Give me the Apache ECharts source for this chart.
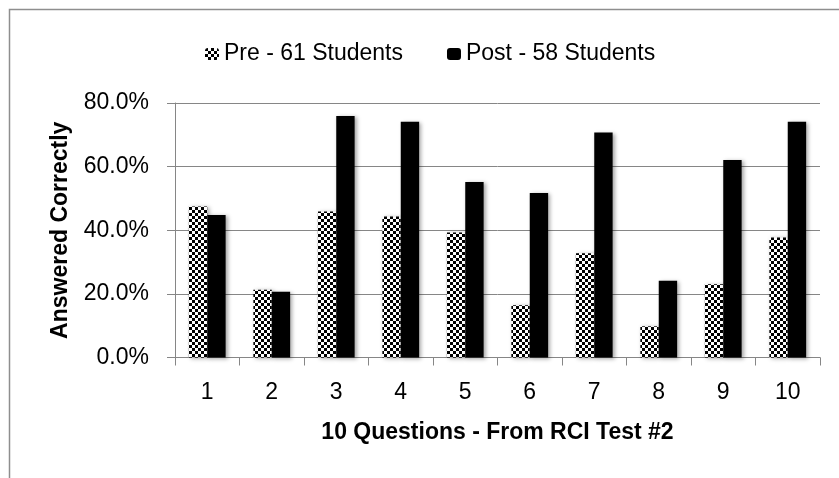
<!DOCTYPE html>
<html>
<head>
<meta charset="utf-8">
<script src="https://cdn.jsdelivr.net/npm/echarts@6/dist/echarts.min.js"></script>
<style>
html,body{margin:0;padding:0;background:#fff;}
#chart{width:839px;height:478px;}
</style>
</head>
<body>
<div id="chart"></div>
<script>
// ---- data ----
const categories = ['1','2','3','4','5','6','7','8','9','10'];
const preName = 'Pre - 61 Students';
const postName = 'Post - 58 Students';
const preValues = [47.5, 21.3, 45.9, 44.3, 39.3, 16.4, 32.8, 9.8, 23.0, 37.7];
const postValues = [44.8, 20.7, 75.9, 74.1, 55.2, 51.7, 70.7, 24.1, 62.1, 74.1];
const yTickValues = [0, 20, 40, 60, 80];
const xAxisTitle = '10 Questions - From RCI Test #2';
const yAxisTitle = 'Answered Correctly';

// ---- checkerboard pattern ----
const pc = document.createElement('canvas');
pc.width = 6; pc.height = 6;
const pctx = pc.getContext('2d');
pctx.fillStyle = '#ffffff'; pctx.fillRect(0,0,6,6);
pctx.fillStyle = '#000000';
pctx.fillRect(0,0,3,3); pctx.fillRect(3,3,3,3);
const checker = { image: pc, repeat: 'repeat' };

const FONT = 'Liberation Sans';
const chart = echarts.init(document.getElementById('chart'), null, {renderer:'canvas'});
const shadow = { shadowColor:'rgba(0,0,0,0.35)', shadowBlur:4, shadowOffsetX:2, shadowOffsetY:1 };

chart.setOption({
  animation: false,
  backgroundColor: '#ffffff',
  textStyle: { fontFamily: FONT },
  graphic: [{
    type: 'rect', silent: true, z: -1,
    shape: { x: 9.5, y: 9.5, width: 1000, height: 1000 },
    style: { fill: 'none', stroke: '#8e8e8e', lineWidth: 1.5 }
  }],
  legend: {
    left: 200, top: 37,
    itemWidth: 14, itemHeight: 12, itemGap: 44,
    textStyle: { fontFamily: FONT, fontSize: 23, color: '#000', lineHeight: 24 },
    data: [preName, postName]
  },
  grid: { left: 175, right: 19, top: 103, bottom: 120.5, containLabel: false },
  xAxis: {
    type: 'category', data: categories,
    name: xAxisTitle, nameLocation: 'middle', nameGap: 64,
    nameTextStyle: { fontFamily: FONT, fontSize: 23, fontWeight: 'bold', color: '#000' },
    axisLine: { lineStyle: { color: '#868686', width: 1 } },
    axisTick: { show: true, length: 8, lineStyle: { color: '#868686' } },
    axisLabel: { fontFamily: FONT, fontSize: 23, color: '#000', margin: 24 }
  },
  yAxis: {
    type: 'value', min: 0, max: 80, interval: 20,
    name: yAxisTitle, nameLocation: 'middle', nameGap: 103, nameRotate: 90,
    nameTextStyle: { fontFamily: FONT, fontSize: 23, fontWeight: 'bold', color: '#000' },
    axisLine: { show: true, lineStyle: { color: '#868686', width: 1 } },
    axisTick: { show: true, length: 8, lineStyle: { color: '#868686' } },
    splitLine: { show: true, lineStyle: { color: '#868686', width: 1 } },
    axisLabel: {
      fontFamily: FONT, fontSize: 23, color: '#000', margin: 26,
      formatter: v => yTickValues.includes(v) ? v.toFixed(1) + '%' : ''
    }
  },
  series: [
    { name: preName, type: 'bar', data: preValues, barGap: '0%', barCategoryGap: '43%',
      itemStyle: Object.assign({ color: checker }, shadow) },
    { name: postName, type: 'bar', data: postValues, barGap: '0%', barCategoryGap: '43%',
      itemStyle: Object.assign({ color: '#000000' }, shadow) }
  ]
});
</script>
</body>
</html>
